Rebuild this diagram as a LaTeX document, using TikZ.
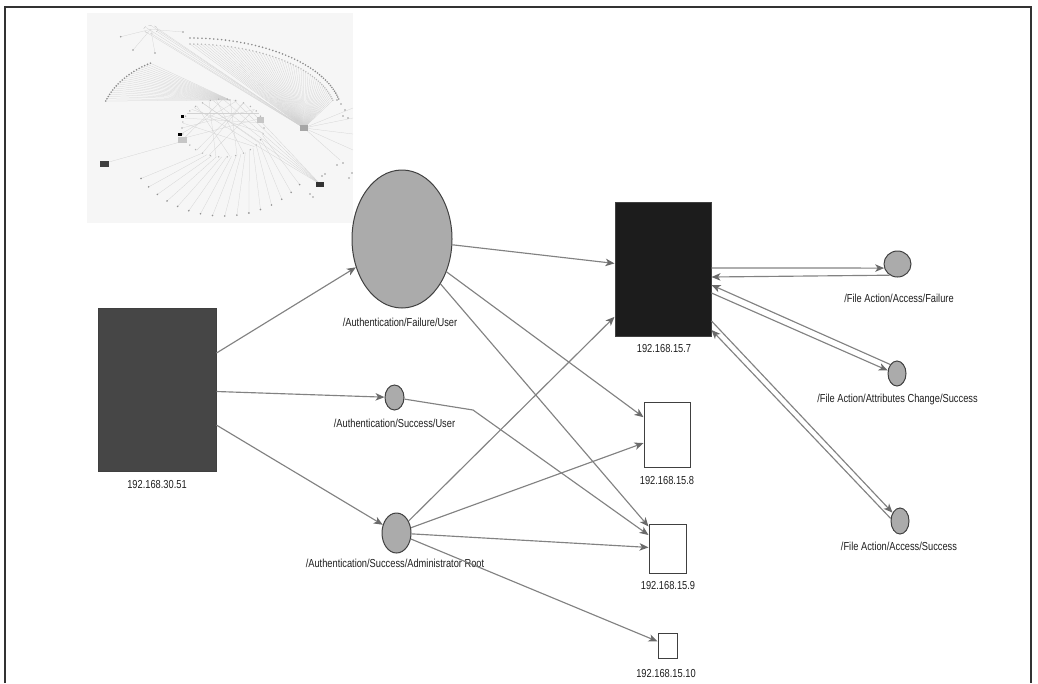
\documentclass[tikz,border=0pt]{standalone}
\usepackage{fontspec}
\newfontfamily\lblfamily[FakeStretch=0.8]{Liberation Sans}
\usetikzlibrary{arrows.meta,shapes.geometric,calc}

\definecolor{edgegray}{HTML}{828282}
\definecolor{tipgray}{HTML}{6A6A6A}
\definecolor{outl}{HTML}{404040}
\definecolor{evtfill}{HTML}{ABABAB}
\definecolor{hostdark}{HTML}{464646}
\definecolor{hostblack}{HTML}{1C1C1C}
\definecolor{txt}{HTML}{1E1E1E}
\definecolor{thumbbg}{HTML}{F6F6F6}

\tikzset{
  edge/.style={draw=edgegray, line width=1.15pt,
    -{Stealth[length=9pt,width=7.5pt,inset=2.5pt,color=tipgray]}},
  host/.style={rectangle, draw=outl, line width=1pt, inner sep=0pt},
  evt/.style={ellipse, draw=outl, fill=evtfill, line width=1pt, inner sep=0pt},
  lbl/.style={anchor=base, inner sep=0pt, text=txt,
    font=\lblfamily\fontsize{11.6}{13}\selectfont},
  thin line/.style={draw=gray!35, line width=0.25pt},
}

\begin{document}
\begin{tikzpicture}[x=1pt,y=-1pt]
\useasboundingbox (0,0) rectangle (1038,683);

% outer frame
\draw[line width=1.4pt, black!80] (5,683) -- (5,7) -- (1031,7) -- (1031,683);

% ---------- overview thumbnail ----------
\fill[thumbbg] (87,13) rectangle (353,223);
\begin{scope}
\clip (87,13) rectangle (353,223);
% fan from the hub to the large arc
\foreach \t in {12,13.5,...,90} {
  \pgfmathsetmacro\px{190+152*cos(\t)}
  \pgfmathsetmacro\py{115-77*sin(\t)}
  \pgfmathsetmacro\qx{190+146*cos(\t)}
  \pgfmathsetmacro\qy{115-71*sin(\t)}
  \draw[thin line] (304,128) -- (\qx,\qy);
  \fill[gray!90] (\px,\py) circle (0.9);
  \fill[gray!55] (\qx,\qy) circle (0.8);
}
% left arc of leaves
\foreach \t in {118,120,...,160} {
  \pgfmathsetmacro\px{195+95*cos(\t)}
  \pgfmathsetmacro\py{125-70*sin(\t)}
  \draw[thin line] (\px,\py) -- (230,100);
  \fill[gray!90] (\px,\py) circle (0.9);
}
% small cluster at the top
\draw[gray!55, dashed, line width=0.3pt] (150.7,29.3) ellipse (7 and 4);
\foreach \dx/\dy in {-5/-2,0/-4,5/-2,6/2,0/4,-6/2} {
  \draw[thin line] (150.7+\dx,29.3+\dy) -- (304,128);
}
\foreach \a/\b in {120.7/36.7,133/50,155/53,183/32} {
  \draw[thin line] (150.7,29.3) -- (\a,\b);
  \fill[gray!80] (\a,\b) circle (0.9);
}
% central ring
\foreach \u/\v in {20/200,40/250,60/230,80/290,100/300,120/330,140/350,160/10,
                   180/40,30/150,70/190,260/110,280/130,320/170,240/60,200/90} {
  \draw[thin line] ({223+41*cos(\u)},{128-29*sin(\u)}) -- ({223+41*cos(\v)},{128-29*sin(\v)});
}
\foreach \t in {0,12,...,348} {
  \fill[gray!60] ({223+41*cos(\t)},{128-29*sin(\t)}) circle (0.8);
}
% leaves below the ring
\foreach \t in {215,222,...,325} {
  \pgfmathsetmacro\px{223+100*cos(\t)}
  \pgfmathsetmacro\py{128-88*sin(\t)}
  \draw[thin line] ({223+41*cos(\t+25)},{128-29*sin(\t+25)}) -- (\px,\py);
  \fill[gray!85] (\px,\py) circle (0.9);
}
% links towards the lower right host
\foreach \t in {60,75,...,135} {
  \draw[thin line] ({223+41*cos(\t)},{128-29*sin(\t)}) -- (320,184);
}
\foreach \a/\b in {353/108,353/118,353/134,353/150,340/160} {
  \draw[thin line] (304,128) -- (\a,\b);
}
\foreach \a/\b in {337/100,341/104,345/110,343/116,348/118,325/174,322/176,310/194,313/197,337/165,343/163,349/178,352/173} {
  \fill[gray!80] (\a,\b) circle (0.9);
}
\draw[thin line] (109,162) -- (180,142);
% hosts in the overview
\fill[gray!70] (300,125) rectangle (308,131);
\fill[gray!45] (257,117) rectangle (264,123);
\fill[gray!45] (178,137) rectangle (187,143);
\fill[black!75] (100,161) rectangle (109,167);
\fill[black!80] (316,182) rectangle (324,187);
\fill[black] (181,115) rectangle (184,118);
\fill[black] (178,133) rectangle (182,135.5);
\end{scope}

% ---------- nodes ----------
\node[host, fill=hostdark, minimum width=118pt, minimum height=163pt] (h3051) at (157,389.5) {};
\node[evt, minimum width=100pt, minimum height=138pt] (afu) at (402,239) {};
\node[evt, minimum width=19pt, minimum height=25pt] (asu) at (394.5,397.5) {};
\node[evt, minimum width=29pt, minimum height=40pt] (asa) at (396.5,533) {};
\node[host, fill=hostblack, minimum width=96pt, minimum height=134pt] (h157) at (663,269) {};
\node[host, fill=white, minimum width=46pt, minimum height=65pt] (h158) at (667,434.5) {};
\node[host, fill=white, minimum width=37pt, minimum height=49pt] (h159) at (667.5,548.5) {};
\node[host, fill=white, minimum width=19pt, minimum height=25pt] (h1510) at (667.5,645.5) {};
\node[evt, minimum width=27pt, minimum height=26pt] (faf) at (897.5,264) {};
\node[evt, minimum width=18pt, minimum height=25pt] (fac) at (897,373.5) {};
\node[evt, minimum width=18pt, minimum height=26pt] (fas) at (900,521) {};

% ---------- labels ----------
\node[lbl] (t3051) at (157,488) {192.168.30.51};
\node[lbl] (tafu) at (400,326) {/Authentication/Failure/User};
\node[lbl] (tasu) at (394.5,427) {/Authentication/Success/User};
\node[lbl] (tasa) at (395,567) {/Authentication/Success/Administrator Root};
\node[lbl] (t157) at (664,352) {192.168.15.7};
\node[lbl] (t158) at (667,484) {192.168.15.8};
\node[lbl] (t159) at (668,589) {192.168.15.9};
\node[lbl] (t1510) at (666,677) {192.168.15.10};
\node[lbl] (tfaf) at (899,302) {/File Action/Access/Failure};
\node[lbl] (tfac) at (897.5,402) {/File Action/Attributes Change/Success};
\node[lbl] (tfas) at (899,550) {/File Action/Access/Success};

% ---------- connectors ----------
\draw[edge] (h3051) -- (afu);
\draw[edge] (h3051) -- (asu);
\draw[edge] (h3051) -- (asa);

\draw[edge] (afu) -- (h157);
\draw[edge] (afu) -- (h158);
\draw[edge] (afu) -- (h159);

\coordinate (kink) at (473,410);
\draw[edge] (asu) -- (kink) -- (h159);

\draw[edge] (asa) -- (h157);
\draw[edge] (asa) -- (h158);
\draw[edge] (asa) -- (h159);
\draw[edge] (asa) -- (h1510);

% paired links between 192.168.15.7 and the file actions
\draw[edge] ($(h157.east)+(0,-1)$) -- (faf.197);
\draw[edge] (faf.235) -- ($(h157.east)+(0,8)$);
\draw[edge] (fac.127) -- ($(h157.east)+(0,16)$);
\draw[edge] ($(h157.east)+(0,24)$) -- (fac.162);
\draw[edge] ($(h157.east)+(0,52)$) -- (fas.132);
\draw[edge] (fas.165) -- ($(h157.east)+(0,61)$);
\end{tikzpicture}
\end{document}
